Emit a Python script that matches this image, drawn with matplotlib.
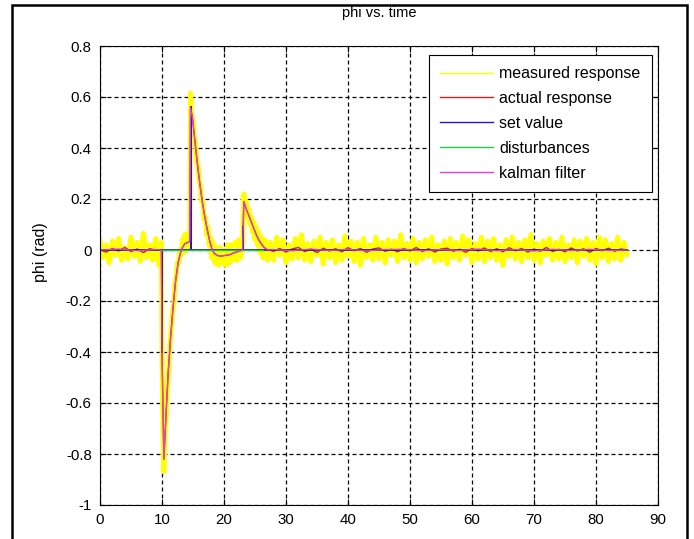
import numpy as np
import matplotlib
matplotlib.use("Agg")
import matplotlib.pyplot as plt
from matplotlib.patches import Rectangle

plt.rcParams['font.family'] = ['Liberation Sans', 'DejaVu Sans']

# ---------------- data ----------------
# measured response (noisy), quiet part before the disturbance, 0.5 s steps
meas_pre_t = np.arange(0, 10, 0.5)
meas_pre_v = [0.04, -0.03, 0.02, -0.05, 0.035, -0.02, 0.045, -0.04, 0.01, -0.035,
              0.05, -0.025, 0.03, -0.045, 0.065, -0.03, 0.02, -0.04, 0.045, -0.06]
# measured response during the transient
meas_tr_t = [9.9, 10.0, 10.15, 10.3, 10.5, 10.7, 10.9, 11.1, 11.3, 11.5, 11.7, 11.9,
             12.1, 12.3, 12.5, 12.7, 12.9, 13.1, 13.3, 13.5, 13.7, 13.9, 14.1, 14.3,
             14.5, 14.6, 14.8, 15.0, 15.2, 15.4, 15.6, 15.8, 16.0, 16.2, 16.4, 16.6,
             16.8, 17.0, 17.2, 17.4, 17.6, 17.8, 18.0, 18.2, 18.5, 18.8, 19.1, 19.4,
             19.7, 20.0, 20.3, 20.6, 20.9, 21.2, 21.5, 21.8, 22.1, 22.4, 22.7, 23.0,
             23.2, 23.4, 23.6, 23.8, 24.0, 24.2, 24.4, 24.6, 24.8, 25.0, 25.2, 25.4,
             25.6, 25.8, 26.0, 26.3, 26.6, 27.0]
meas_tr_v = [0.03, -0.38, -0.70, -0.87, -0.72, -0.64, -0.52, -0.46, -0.36, -0.31, -0.24, -0.21,
             -0.13, -0.10, -0.05, -0.05, 0.0, -0.02, 0.04, -0.01, 0.06, 0.0, 0.065, 0.01,
             0.05, 0.615, 0.53, 0.51, 0.44, 0.42, 0.35, 0.33, 0.27, 0.25, 0.19, 0.19,
             0.12, 0.13, 0.06, 0.09, 0.02, 0.05, -0.03, 0.03, -0.05, 0.01, -0.06, 0.01,
             -0.05, 0.0, -0.06, 0.02, -0.05, 0.02, -0.04, 0.03, -0.04, 0.04, -0.03, 0.03,
             0.22, 0.16, 0.19, 0.13, 0.16, 0.10, 0.13, 0.07, 0.11, 0.04, 0.09, 0.02,
             0.07, -0.01, 0.05, -0.03, 0.04, -0.04]
# measured response, quiet part after the transient, 0.5 s steps
meas_post_t = np.arange(27.5, 85.01, 0.5)
meas_post_v = [0.03, -0.04, 0.05, -0.02, 0.04, -0.05, 0.02, -0.035, 0.045, -0.03,
               0.06, -0.04, 0.025, -0.045, 0.035, -0.02, 0.05, -0.055, 0.03, -0.03,
               0.04, -0.05, 0.02, -0.04, 0.055, -0.025, 0.035, -0.045, 0.03, -0.06,
               0.045, -0.03, 0.02, -0.04, 0.05, -0.035, 0.03, -0.05, 0.04, -0.02,
               0.035, -0.045, 0.06, -0.03, 0.025, -0.04, 0.045, -0.05, 0.03, -0.035,
               0.04, -0.025, 0.05, -0.045, 0.02, -0.04, 0.035, -0.055, 0.045, -0.03,
               0.03, -0.04, 0.055, -0.02, 0.04, -0.05, 0.025, -0.035, 0.05, -0.045,
               0.035, -0.03, 0.045, -0.04, 0.02, -0.06, 0.04, -0.025, 0.05, -0.035,
               0.03, -0.045, 0.04, -0.03, 0.06, -0.04, 0.025, -0.05, 0.035, -0.02,
               0.045, -0.04, 0.03, -0.035, 0.05, -0.045, 0.02, -0.03, 0.04, -0.05,
               0.035, -0.025, 0.045, -0.04, 0.03, -0.055, 0.05, -0.03, 0.04, -0.045,
               0.025, -0.035, 0.05, -0.04, 0.03, -0.02]

# transient of the true / filtered response
resp_tr_t = [9.9, 10.0, 10.3, 10.7, 11.0, 11.4, 11.8, 12.2, 12.6, 13.0, 13.3, 13.7,
             14.2, 14.5, 14.6, 14.9, 15.3, 15.7, 16.1, 16.5, 16.9, 17.3, 17.7, 18.1,
             18.5, 19.0, 19.5, 20.0, 20.5, 21.0, 21.5, 22.0, 22.5, 23.0, 23.2, 23.6,
             24.0, 24.4, 24.8, 25.2, 25.6, 26.0, 26.4, 26.8, 27.2]
resp_tr_v = [0.0, -0.40, -0.82, -0.62, -0.48, -0.34, -0.22, -0.12, -0.05, -0.01, 0.01, 0.025,
             0.03, 0.035, 0.56, 0.52, 0.43, 0.34, 0.26, 0.19, 0.13, 0.08, 0.035, 0.0,
             -0.015, -0.022, -0.024, -0.022, -0.02, -0.018, -0.012, -0.008, -0.004, 0.0, 0.19, 0.16,
             0.135, 0.11, 0.085, 0.06, 0.04, 0.025, 0.012, 0.004, 0.0]

# actual response, quiet parts (1 s steps)
act_pre_t = np.arange(0, 10, 1.0)
act_pre_v = [0.0, -0.008, 0.006, -0.004, 0.01, -0.006, 0.004, -0.01, 0.005, 0.0]
act_post_t = np.arange(28, 85.01, 1.0)
act_post_v = [-0.005, 0.006, -0.008, 0.004, 0.01, -0.006, 0.003, -0.01, 0.007, -0.004,
              0.005, -0.007, 0.009, -0.003, 0.006, -0.009, 0.004, 0.008, -0.005, 0.003,
              -0.007, 0.006, -0.004, 0.01, -0.006, 0.005, -0.008, 0.004, 0.007, -0.005,
              0.003, -0.009, 0.006, -0.004, 0.008, -0.006, 0.005, -0.007, 0.009, -0.003,
              0.006, -0.008, 0.004, -0.005, 0.01, -0.006, 0.003, -0.007, 0.008, -0.004,
              0.005, -0.009, 0.006, -0.003, 0.007, -0.005, 0.004, 0.0]

# kalman filter, quiet parts (3 s steps)
kal_pre_t = [0, 3, 6, 9]
kal_pre_v = [0.0, 0.004, -0.003, 0.002]
kal_post_t = np.arange(28, 85.01, 3.0)
kal_post_v = [0.002, -0.003, 0.004, -0.002, 0.003, -0.004, 0.002, 0.003, -0.003, 0.002,
              -0.002, 0.004, -0.003, 0.002, -0.004, 0.003, -0.002, 0.003, -0.002, 0.0]

# set value (impulses)
set_t = [0, 10, 10, 10, 14.6, 14.6, 14.6, 23.0, 23.0, 23.0, 85]
set_v = [0, 0, -0.40, 0, 0, 0.56, 0, 0, 0.09, 0, 0]

# disturbances
dist_t = [10, 26.3]
dist_v = [0, 0]

xticks = [0, 10, 20, 30, 40, 50, 60, 70, 80, 90]
yticks = [-1, -0.8, -0.6, -0.4, -0.2, 0, 0.2, 0.4, 0.6, 0.8]
ytick_labels = ['-1', '-0.8', '-0.6', '-0.4', '-0.2', '0', '0.2', '0.4', '0.6', '0.8']
labels = ['measured response', 'actual response', 'set value', 'disturbances', 'kalman filter']

# ---------------- plot ----------------
fig = plt.figure(figsize=(6.94, 5.39), dpi=100)
ax = fig.add_axes([100/694, 1-505/539, 558/694, 459/539])

meas_t = np.concatenate([meas_pre_t, meas_tr_t, meas_post_t])
meas_v = np.concatenate([meas_pre_v, meas_tr_v, meas_post_v])
act_t = np.concatenate([act_pre_t, resp_tr_t, act_post_t])
act_v = np.concatenate([act_pre_v, resp_tr_v, act_post_v])
kal_t = np.concatenate([kal_pre_t, resp_tr_t, kal_post_t])
kal_v = np.concatenate([kal_pre_v, resp_tr_v, kal_post_v])

ax.plot(meas_t, meas_v, color='#ffff00', lw=3.6, label=labels[0],
        solid_joinstyle='round', solid_capstyle='round')
ax.plot(act_t, act_v, color='#d02020', lw=1.0, label=labels[1])
ax.plot(set_t, set_v, color='#2a10d8', lw=1.3, label=labels[2])
ax.plot(dist_t, dist_v, color='#20d040', lw=1.0, label=labels[3])
ax.plot(kal_t, kal_v, color='#e040e0', lw=0.9, label=labels[4])

ax.set_xlim(0, 90)
ax.set_ylim(-1, 0.8)
ax.set_xticks(xticks)
ax.set_yticks(yticks)
ax.set_yticklabels(ytick_labels)
ax.tick_params(direction='in', top=True, right=True, length=4, width=0.8,
               labelsize=10.8, pad=6, colors='black')
for s in ax.spines.values():
    s.set_linewidth(0.8)
ax.grid(True, color='black', lw=0.9, linestyle=(0, (3.2, 2.4)))

fig.text((100 + 558/2)/694, 1-13/539, 'phi vs. time', ha='center', va='center', fontsize=10.5)
fig.text(41/694, 1-252/539, 'phi (rad)', rotation=90, ha='center', va='center', fontsize=11.5)

leg = ax.legend(loc='upper left', bbox_to_anchor=((429-100)/558, (505-55)/459),
                borderaxespad=0, fontsize=11.5, frameon=True, fancybox=False,
                edgecolor='black', framealpha=1, handlelength=3.3, handletextpad=0.4,
                labelspacing=0.62, borderpad=0.7)
leg.get_frame().set_linewidth(0.8)
for line in leg.get_lines():
    line.set_linewidth(1.0)

fig.patches.append(Rectangle((12/694, -0.02), (687-12)/694, 1.02-5/539,
                             transform=fig.transFigure, fill=False, lw=1.8, ec='black'))

fig.savefig('out.png', dpi=100)
